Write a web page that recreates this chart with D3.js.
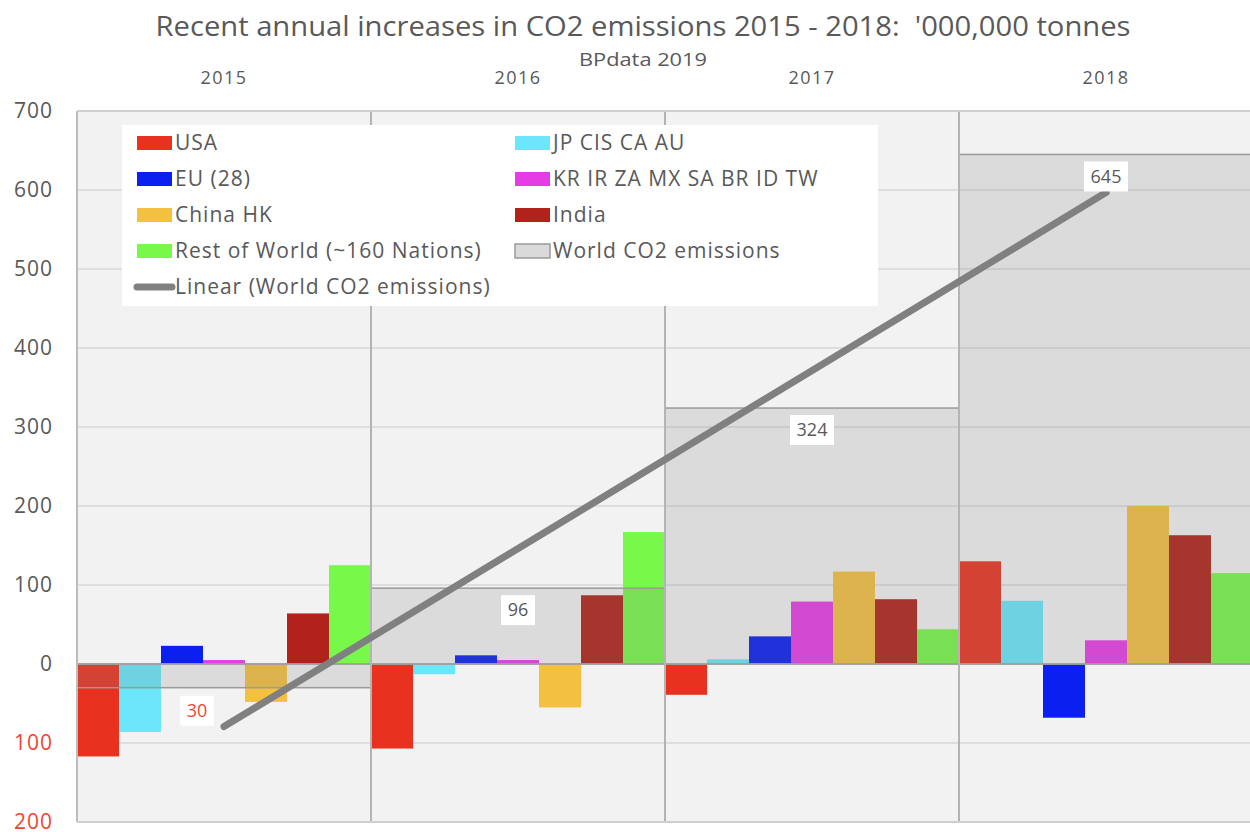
<!DOCTYPE html>
<html><head><meta charset="utf-8">
<script src="https://cdn.jsdelivr.net/npm/d3@7"></script>
<style>body{margin:0;background:#fff;} svg{display:block;font-family:"Open Sans",sans-serif;} text{white-space:pre;}</style>
</head><body><svg id="c" width="1250" height="832"></svg>
<script>
const years = ["2015","2016","2017","2018"];
const seriesNames = ["USA","JP CIS CA AU","EU (28)","KR IR ZA MX SA BR ID TW","China HK","India","Rest of World (~160 Nations)"];
const usa        = [-117,-107,-39,130];
const jpCisCaAu  = [-86,-13,6,80];
const eu28       = [23,11,35,-68];
const krIrZaMx   = [5,5,79,30];
const chinaHk    = [-48,-55,117,200];
const india      = [64,87,82,163];
const restOfWorld= [125,167,44,115];
const worldCO2   = [-30,96,324,645];
const worldName  = "World CO2 emissions";
const trendName  = "Linear (World CO2 emissions)";
const yTicks     = [-200,-100,0,100,200,300,400,500,600,700];
const titleText  = "Recent annual increases in CO2 emissions 2015 - 2018:  '000,000 tonnes";
const subtitleText = "BPdata 2019";

const seriesValues = [usa,jpCisCaAu,eu28,krIrZaMx,chinaHk,india,restOfWorld];
const colors = ["#e8321f","#6be6fa","#0a1ff0","#e63ce6","#f4c040","#b0221a","#78f848"];
const textCol = "#595959", negCol = "#ee4632";

const svg = d3.select("#c");
const L=77,R=1253,T=111,B=822;
const x = d3.scaleBand().domain(years).range([L,R]).padding(0);
const xi = d3.scaleBand().domain(d3.range(seriesNames.length)).range([0,x.bandwidth()]).padding(0);
const y = d3.scaleLinear().domain([-200,700]).range([B,T]);

// plot background
svg.append("rect").attr("x",L).attr("y",T).attr("width",R-L).attr("height",B-T).attr("fill","#f2f2f2");
// horizontal gridlines
svg.append("g").selectAll("line").data(yTicks).join("line")
  .attr("x1",L).attr("x2",R).attr("y1",d=>y(d)).attr("y2",d=>y(d))
  .attr("stroke","#dedede").attr("stroke-width",2);

// bars
const barData = [];
seriesValues.forEach((vals,si)=>vals.forEach((v,yi)=>barData.push({si,yr:years[yi],v})));
svg.append("g").selectAll("rect").data(barData).join("rect")
  .attr("x",d=>x(d.yr)+xi(d.si)).attr("width",xi.bandwidth())
  .attr("y",d=>y(Math.max(0,d.v))).attr("height",d=>Math.abs(y(d.v)-y(0)))
  .attr("fill",d=>colors[d.si]);

// world overlay
svg.append("g").selectAll("rect").data(worldCO2).join("rect")
  .attr("x",(d,i)=>x(years[i])).attr("width",x.bandwidth())
  .attr("y",d=>y(Math.max(0,d))).attr("height",d=>Math.abs(y(d)-y(0)))
  .attr("fill","#808080").attr("fill-opacity",0.2)
  .attr("stroke","#9a9a9a").attr("stroke-width",1.5);

// zero line
svg.append("line").attr("x1",L).attr("x2",R).attr("y1",y(0)).attr("y2",y(0)).attr("stroke","#a0a0a0").attr("stroke-width",1.5);

// vertical category lines and frame
svg.append("g").selectAll("line").data(years.slice(1)).join("line")
  .attr("x1",d=>x(d)).attr("x2",d=>x(d)).attr("y1",T).attr("y2",B)
  .attr("stroke","#b4b4b4").attr("stroke-width",2);
svg.append("line").attr("x1",L).attr("x2",L).attr("y1",T).attr("y2",B).attr("stroke","#bdbdbd").attr("stroke-width",2);
svg.append("line").attr("x1",L).attr("x2",R).attr("y1",T).attr("y2",T).attr("stroke","#cfcfcf").attr("stroke-width",2);
svg.append("line").attr("x1",L).attr("x2",R).attr("y1",B).attr("y2",B).attr("stroke","#cfcfcf").attr("stroke-width",2);

// linear trendline (least squares on world values)
const xs = worldCO2.map((d,i)=>i+1);
const mx = d3.mean(xs), my = d3.mean(worldCO2);
const slope = d3.sum(xs.map((xv,i)=>(xv-mx)*(worldCO2[i]-my)))/d3.sum(xs.map(xv=>(xv-mx)**2));
const icpt = my - slope*mx;
const trendPts = [years[0],years[years.length-1]].map(yr=>{const k=years.indexOf(yr)+1;return [x(yr)+x.bandwidth()/2, y(icpt+slope*k)];});
svg.append("path").attr("d",d3.line()(trendPts)).attr("stroke","#808080").attr("stroke-width",7)
  .attr("stroke-linecap","round").attr("fill","none");

// data labels
const fmt = v=>String(Math.abs(v));
const lab = svg.append("g").selectAll("g").data(worldCO2).join("g")
  .attr("transform",(d,i)=>`translate(${x(years[i])+x.bandwidth()/2+(d<0?-27:0)},${y(d)+(d<0?23:22)})`);
lab.append("rect").attr("x",d=>-(fmt(d).length*5+7)).attr("y",-15).attr("width",d=>fmt(d).length*10+14).attr("height",30).attr("fill","#fff");
lab.append("text").attr("text-anchor","middle").attr("dy","0.35em").attr("font-size",18)
  .attr("fill",d=>d<0?negCol:textCol).text(fmt);

// y axis labels
svg.append("g").selectAll("text").data(yTicks).join("text")
  .attr("x",53).attr("y",d=>y(d)).attr("dy","0.33em").attr("text-anchor","end").attr("font-size",21)
  .attr("letter-spacing",1)
  .attr("fill",d=>d<0?negCol:textCol).text(d=>Math.abs(d));

// year labels at top
svg.append("g").selectAll("text").data(years).join("text")
  .attr("x",d=>x(d)+x.bandwidth()/2).attr("y",78).attr("dy","0.35em").attr("text-anchor","middle")
  .attr("font-size",18).attr("letter-spacing",1.5).attr("fill",textCol).text(d=>d);

// title
svg.append("text").attr("x",643).attr("y",26).attr("dy","0.35em").attr("text-anchor","middle")
  .attr("font-size",28).attr("textLength",975).attr("lengthAdjust","spacingAndGlyphs")
  .attr("fill",textCol).text(titleText);
svg.append("text").attr("x",643).attr("y",60).attr("dy","0.35em").attr("text-anchor","middle")
  .attr("font-size",18).attr("textLength",128).attr("lengthAdjust","spacingAndGlyphs")
  .attr("fill",textCol).text(subtitleText);

// legend
const lg = svg.append("g");
lg.append("rect").attr("x",122).attr("y",125).attr("width",756).attr("height",181).attr("fill","#fff");
const legItems = seriesNames.map((n,i)=>({name:n,type:"bar",color:colors[i]}))
  .concat([{name:worldName,type:"world"},{name:trendName,type:"line"}]);
const li = lg.selectAll("g").data(legItems).join("g")
  .attr("transform",(d,i)=>`translate(${i%2?515:137},${143+36*Math.floor(i/2)})`);
li.filter(d=>d.type==="bar").append("rect").attr("x",0).attr("y",-7).attr("width",35).attr("height",14).attr("fill",d=>d.color);
li.filter(d=>d.type==="world").append("rect").attr("x",0).attr("y",-7).attr("width",35).attr("height",14)
  .attr("fill","#dadada").attr("stroke","#9a9a9a").attr("stroke-width",1.5);
li.filter(d=>d.type==="line").append("line").attr("x1",0).attr("x2",35).attr("y1",0).attr("y2",0)
  .attr("stroke","#808080").attr("stroke-width",7).attr("stroke-linecap","round");
li.append("text").attr("x",38).attr("dy","0.35em").attr("font-size",21).attr("letter-spacing",1)
  .attr("fill",textCol).text(d=>d.name);
</script></body></html>
